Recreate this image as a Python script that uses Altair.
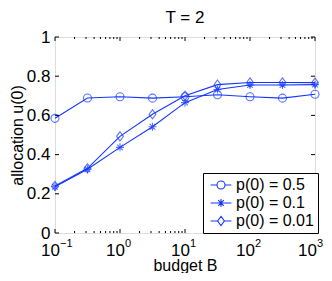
import altair as alt
import pandas as pd

# ---- data ----
budget = [0.1, 0.316, 1, 3.16, 10, 31.6, 100, 316, 1000]
u_p05 = [0.585, 0.689, 0.695, 0.688, 0.695, 0.705, 0.695, 0.688, 0.708]
u_p01 = [0.236, 0.325, 0.437, 0.542, 0.665, 0.732, 0.755, 0.755, 0.757]
u_p001 = [0.240, 0.330, 0.493, 0.606, 0.700, 0.757, 0.768, 0.768, 0.767]
series_names = ["p(0) = 0.5", "p(0) = 0.1", "p(0) = 0.01"]
y_ticks = [0, 0.2, 0.4, 0.6, 0.8, 1.0]
x_major = [0.1, 1, 10, 100, 1000]
x_exp = ["\u22121", "0", "1", "2", "3"]
x_minor = [m * d for d in [0.1, 1, 10, 100] for m in range(2, 10)]

W, H = 260, 196
BLUE = "#1436ff"
FONT = "Liberation Sans"

rows = []
for name, vals in zip(series_names, [u_p05, u_p01, u_p001]):
    for b, u in zip(budget, vals):
        rows.append({"budget": b, "u": u, "series": name})
df = pd.DataFrame(rows)

ydf = pd.DataFrame({"u": y_ticks})
xmaj = pd.DataFrame({"budget": x_major, "exp": x_exp})
xmin = pd.DataFrame({"budget": x_minor})

xscale = alt.Scale(type="log", domain=[0.1, 1000], nice=False)
yscale = alt.Scale(domain=[0, 1], nice=False, zero=False)

xaxis = alt.Axis(title="budget B", labels=False, ticks=False, domain=False,
                 grid=False, titlePadding=24, titleFontSize=16,
                 titleFontWeight="normal", titleFont=FONT, titleColor="black")
yaxis = alt.Axis(title="allocation u(0)", values=y_ticks, format="~g",
                 ticks=False, domain=False, grid=False, labelPadding=5,
                 labelFontSize=17, labelFont=FONT, labelColor="black",
                 titlePadding=1, titleFontSize=16, titleFontWeight="normal",
                 titleFont=FONT, titleColor="black")
X = alt.X("budget:Q", scale=xscale, axis=xaxis)
Y = alt.Y("u:Q", scale=yscale, axis=yaxis)

ASTER = "M-1,0L1,0M0,-1L0,1M-0.7,-0.7L0.7,0.7M-0.7,0.7L0.7,-0.7"
DIAM = "M0,-1.15L0.85,0L0,1.15L-0.85,0Z"
plain_shapes = ["circle", ASTER, DIAM]
legend_shapes = [
    "M-2.6,0L-1,0M1,0L2.6,0M1,0A1,1,0,1,1,-1,0A1,1,0,1,1,1,0",
    "M-2.6,0L2.6,0M0,-1L0,1M-0.7,-0.7L0.7,0.7M-0.7,0.7L0.7,-0.7",
    "M-2.6,0L-0.85,0M0.85,0L2.6,0M0,-1.15L0.85,0L0,1.15L-0.85,0Z",
]

# inward tick marks
def rule(data, **enc):
    return alt.Chart(data).mark_rule(color="black", strokeWidth=1).encode(**enc)

yt_left = rule(ydf, y=Y, x=alt.value(0), x2=alt.value(4))
yt_right = rule(ydf, y=Y, x=alt.value(W - 4), x2=alt.value(W))
xt_bot = rule(xmaj, x=X, y=alt.value(H - 4), y2=alt.value(H))
xt_top = rule(xmaj, x=X, y=alt.value(0), y2=alt.value(4))
xm_bot = rule(xmin, x=X, y=alt.value(H - 2), y2=alt.value(H))
xm_top = rule(xmin, x=X, y=alt.value(0), y2=alt.value(2))

lines = alt.Chart(df).mark_line(color=BLUE, strokeWidth=1.1).encode(
    x=X, y=Y, detail="series:N")

points = alt.Chart(df).mark_point(filled=False, color=BLUE, size=64, strokeWidth=1.1).encode(
    x=X, y=Y,
    shape=alt.Shape("series:N", scale=alt.Scale(domain=series_names, range=plain_shapes),
                    legend=None))

legend_layer = alt.Chart(df).mark_point(filled=False, color=BLUE, size=64, opacity=0).encode(
    x=X, y=Y,
    shape=alt.Shape("series:N", scale=alt.Scale(domain=series_names, range=legend_shapes),
                    legend=alt.Legend(title=None, orient="none", legendX=148, legendY=136,
                                      strokeColor="black", fillColor="white", padding=4,
                                      symbolOffset=6, labelOffset=7, symbolOpacity=1,
                                      symbolSize=64, symbolStrokeColor=BLUE,
                                      symbolStrokeWidth=1.1, labelFontSize=16,
                                      labelFont=FONT, labelColor="black", rowPadding=2,
                                      cornerRadius=0)))

shift = alt.ExprRef("datum.budget >= 1000 ? 2 : 5")
lab10 = alt.Chart(xmaj).mark_text(text="10", align="right", baseline="alphabetic", dx=shift,
                                   fontSize=17, font=FONT, color="black").encode(
    x=X, y=alt.value(H + 23))
labexp = alt.Chart(xmaj).mark_text(align="left", baseline="alphabetic", dx=shift,
                                    fontSize=11, font=FONT, color="black").encode(
    x=X, y=alt.value(H + 14), text="exp:N")

chart = alt.layer(
    lines, points, legend_layer, yt_left, yt_right, xt_bot, xt_top, xm_bot, xm_top, lab10, labexp
).resolve_scale(shape="independent").properties(
    width=W, height=H,
    title=alt.TitleParams("T = 2", fontSize=17, fontWeight="normal", font=FONT,
                          color="black", anchor="middle", offset=1),
    autosize=alt.AutoSizeParams(type="none"),
    padding={"left": 47, "top": 29, "right": 9, "bottom": 40},
).configure_view(stroke="black", strokeWidth=1).configure(background="white")

chart.save("out.html", embed_options={"renderer": "svg", "actions": False})
